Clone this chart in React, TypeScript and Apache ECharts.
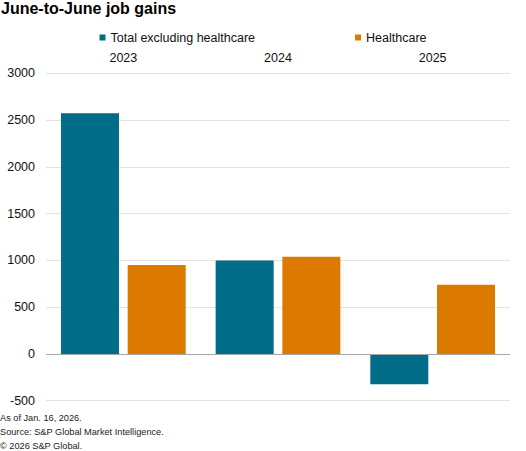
import React, { useEffect, useRef } from "react";
import * as echarts from "echarts";

const years = ["2023", "2024", "2025"];
const totalExHealthcare = [2572, 1000, -325];
const healthcare = [952, 1040, 740];
const seriesNames = ["Total excluding healthcare", "Healthcare"];
const footnotes = ["As of Jan. 16, 2026.", "Source: S&P Global Market Intelligence.", "\u00a9 2026 S&P Global."];
const titleText = "June-to-June job gains";

const FONT = "Arial, 'Liberation Sans', sans-serif";
const TEAL = "#016d89";
const ORANGE = "#dc7a00";

export default function App() {
  const ref = useRef<HTMLDivElement>(null);
  useEffect(() => {
    if (!ref.current) return;
    const chart = echarts.init(ref.current, undefined, { renderer: "svg" });
    chart.setOption({
      animation: false,
      backgroundColor: "#ffffff",
      textStyle: { fontFamily: FONT },
      title: {
        text: titleText,
        left: 1,
        top: 0,
        padding: 0,
        textStyle: { fontFamily: FONT, fontSize: 16, fontWeight: "bold", color: "#000" },
      },
      legend: {
        data: seriesNames,
        left: "center",
        top: 31,
        padding: 0,
        itemWidth: 6,
        itemHeight: 6,
        itemGap: 100,
        icon: "rect",
        textStyle: { fontFamily: FONT, fontSize: 12.5, color: "#111" },
      },
      grid: { left: 46, right: 16, top: 73.3, bottom: 50.3, containLabel: false },
      xAxis: {
        type: "category",
        data: years,
        position: "top",
        axisLine: { show: false, onZero: false },
        axisTick: { show: false },
        axisLabel: { fontFamily: FONT, fontSize: 12.5, color: "#111", margin: 9 },
      },
      yAxis: {
        type: "value",
        min: -500,
        max: 3000,
        interval: 500,
        axisLine: { show: false },
        axisTick: { show: false },
        axisLabel: {
          fontFamily: FONT,
          fontSize: 12.5,
          color: "#111",
          margin: 11,
          formatter: (v: number) => String(v),
        },
        splitLine: { lineStyle: { color: "#e3e3e3", width: 1 } },
      },
      series: [
        {
          name: seriesNames[0],
          type: "bar",
          data: totalExHealthcare,
          barWidth: 58,
          barGap: "15%",
          itemStyle: { color: TEAL },
          markLine: {
            silent: true,
            symbol: "none",
            label: { show: false },
            lineStyle: { color: "#a6a6a6", type: "solid", width: 1 },
            data: [{ yAxis: 0 }],
            z: 5,
          },
        },
        {
          name: seriesNames[1],
          type: "bar",
          data: healthcare,
          barWidth: 58,
          barGap: "15%",
          itemStyle: { color: ORANGE },
        },
      ],
      graphic: footnotes.map((t, i) => ({
        type: "text",
        left: 0,
        top: 413 + i * 14,
        style: { text: t, fontFamily: FONT, fontSize: 9.2, fill: "#222" },
      })),
    });
    return () => chart.dispose();
  }, []);
  return (
    <div
      ref={ref}
      style={{ position: "absolute", left: 0, top: 0, width: 526, height: 451 }}
    />
  );
}
